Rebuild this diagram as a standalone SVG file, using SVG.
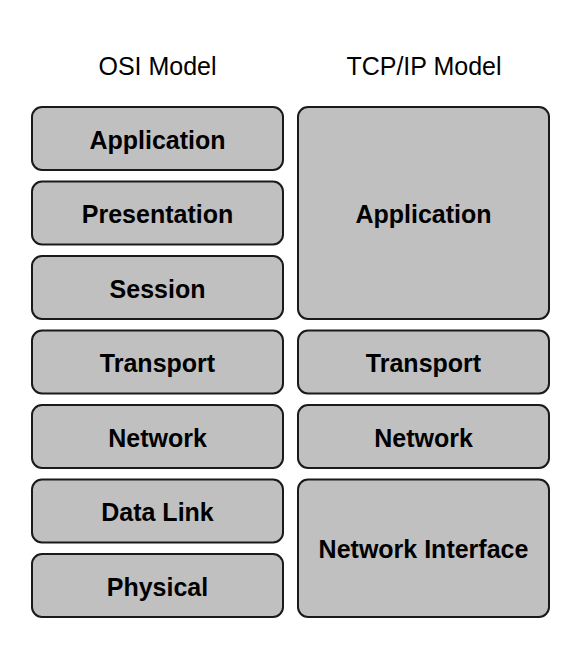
<svg xmlns="http://www.w3.org/2000/svg" width="581" height="650" viewBox="0 0 581 650">
<style>
.b{fill:#c0c0c0;stroke:#1a1a1a;stroke-width:2}
.t{font-family:"Liberation Sans",Arial,sans-serif;font-size:25px;font-weight:bold;text-anchor:middle;fill:#000}
.h{font-family:"Liberation Sans",Arial,sans-serif;font-size:25px;text-anchor:middle;fill:#000}
</style>
<rect width="581" height="650" fill="#fff"/>
<text class="h" x="157.5" y="75">OSI Model</text>
<text class="h" x="424" y="75">TCP/IP Model</text>
<g id="osi-application"><rect class="b" x="32" y="107" width="251" height="63" rx="10"/><text class="t" x="157.5" y="148.5">Application</text></g>
<g id="osi-presentation"><rect class="b" x="32" y="181.5" width="251" height="63" rx="10"/><text class="t" x="157.5" y="223">Presentation</text></g>
<g id="osi-session"><rect class="b" x="32" y="256" width="251" height="63" rx="10"/><text class="t" x="157.5" y="297.5">Session</text></g>
<g id="osi-transport"><rect class="b" x="32" y="330.5" width="251" height="63" rx="10"/><text class="t" x="157.5" y="372">Transport</text></g>
<g id="osi-network"><rect class="b" x="32" y="405" width="251" height="63" rx="10"/><text class="t" x="157.5" y="446.5">Network</text></g>
<g id="osi-datalink"><rect class="b" x="32" y="479.5" width="251" height="63" rx="10"/><text class="t" x="157.5" y="521">Data Link</text></g>
<g id="osi-physical"><rect class="b" x="32" y="554" width="251" height="63" rx="10"/><text class="t" x="157.5" y="595.5">Physical</text></g>
<g id="tcp-application"><rect class="b" x="298" y="107" width="251" height="212" rx="10"/><text class="t" x="423.5" y="223">Application</text></g>
<g id="tcp-transport"><rect class="b" x="298" y="330.5" width="251" height="63" rx="10"/><text class="t" x="423.5" y="372">Transport</text></g>
<g id="tcp-network"><rect class="b" x="298" y="405" width="251" height="63" rx="10"/><text class="t" x="423.5" y="446.5">Network</text></g>
<g id="tcp-interface"><rect class="b" x="298" y="479.5" width="251" height="137.5" rx="10"/><text class="t" x="423.5" y="558">Network Interface</text></g>
<g id="connectors"></g>
</svg>
